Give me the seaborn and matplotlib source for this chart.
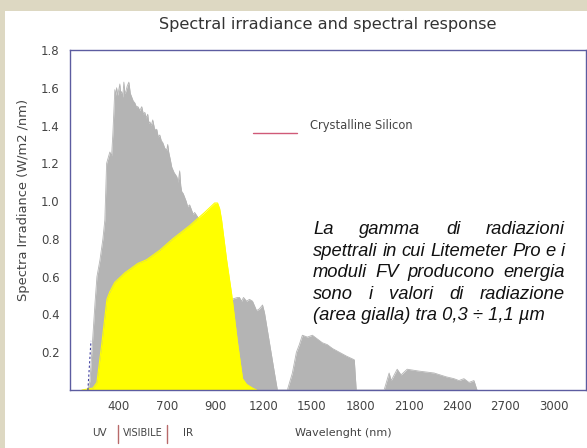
import numpy as np
import pandas as pd
import matplotlib
matplotlib.use("Agg")
import matplotlib.pyplot as plt
import seaborn as sns
from matplotlib.lines import Line2D
from matplotlib.patches import Rectangle

# grey area: solar spectral irradiance (x in the chart's own axis units)
sun_nm = [105, 111, 124, 155, 167, 186, 204, 216, 227, 247, 258, 266, 278, 284, 289, 296,
          309, 314, 320, 327, 334, 340, 346, 355, 365, 374, 383, 392, 402, 411, 421, 433,
          445, 455, 464, 472, 482, 489, 495, 504, 513, 525, 538, 547, 557, 566, 575, 588,
          600, 606, 612, 622, 631, 646, 662, 671, 680, 687, 693, 702, 711, 720, 730, 742,
          755, 764, 773, 804, 866, 928, 971, 1002, 1039, 1051, 1064, 1076, 1095, 1113,
          1132, 1157, 1175, 1194, 1206, 1237, 1268, 1286, 1348, 1379, 1404, 1422, 1441,
          1472, 1503, 1534, 1565, 1596, 1627, 1670, 1713, 1763, 1775, 1948, 1979, 1992,
          2029, 2053, 2091, 2165, 2258, 2332, 2381, 2412, 2443, 2474, 2505, 2524]
sun_val = [0.0, 0.0, 0.05, 0.46, 0.60, 0.69, 0.80, 0.90, 1.20, 1.26, 1.24, 1.36, 1.59, 1.56,
           1.60, 1.56, 1.62, 1.57, 1.58, 1.55, 1.63, 1.57, 1.58, 1.61, 1.63, 1.57, 1.55,
           1.53, 1.52, 1.50, 1.50, 1.48, 1.50, 1.46, 1.47, 1.44, 1.46, 1.41, 1.42, 1.40,
           1.43, 1.38, 1.38, 1.34, 1.35, 1.32, 1.31, 1.28, 1.27, 1.30, 1.26, 1.22, 1.18,
           1.15, 1.13, 1.10, 1.16, 1.08, 1.05, 1.04, 1.02, 1.00, 0.97, 0.98, 0.95, 0.93,
           0.94, 0.90, 0.85, 0.52, 0.48, 0.48, 0.49, 0.49, 0.47, 0.49, 0.47, 0.48, 0.47,
           0.42, 0.43, 0.45, 0.41, 0.25, 0.09, 0.0, 0.0, 0.09, 0.20, 0.24, 0.29, 0.28, 0.29,
           0.27, 0.25, 0.24, 0.22, 0.20, 0.18, 0.16, 0.0, 0.0, 0.09, 0.05, 0.11, 0.08,
           0.11, 0.10, 0.09, 0.07, 0.06, 0.05, 0.06, 0.04, 0.05, 0.0]

# yellow area: crystalline silicon response
si_nm = [74, 142, 167, 198, 229, 247, 278, 340, 421, 476, 557, 637, 742, 835, 897, 915,
         928, 940, 971, 1002, 1039, 1070, 1095, 1132, 1157]
si_val = [0.0, 0.01, 0.04, 0.25, 0.48, 0.52, 0.57, 0.62, 0.67, 0.69, 0.74, 0.80, 0.87,
          0.94, 0.99, 0.99, 0.96, 0.90, 0.69, 0.51, 0.25, 0.06, 0.03, 0.01, 0.0]

# small dashed trace at the left foot of the curves
trace_nm = [111, 130]
trace_val = [0.0, 0.26]

x_ticks = [150, 300, 600, 900, 1200, 1500, 1800, 2100, 2400, 2700, 3000]
x_labels = ['', '400', '700', '900', '1200', '1500', '1800', '2100', '2400', '2700', '3000']
y_ticks = [0.2, 0.4, 0.6, 0.8, 1.0, 1.2, 1.4, 1.6, 1.8]

note_lines = ["La gamma di radiazioni",
              "spettrali in cui Litemeter Pro e i",
              "moduli FV producono energia",
              "sono i valori di radiazione",
              "(area gialla) tra 0,3 ÷ 1,1 µm"]

sun = pd.DataFrame({"nm": sun_nm, "val": sun_val})
si = pd.DataFrame({"nm": si_nm, "val": si_val})

sns.set_style("white")
plt.rcParams['font.family'] = ['DejaVu Sans']

W, H = 587, 448
fig = plt.figure(figsize=(W / 100, H / 100), dpi=100, facecolor='#ddd8c2')
fig.add_artist(Rectangle((5 / W, 0), 1, (H - 11) / H, transform=fig.transFigure,
                         facecolor='white', edgecolor='none', zorder=-5))

ax = fig.add_axes([70 / W, 1 - 390 / H, 516 / W, 340 / H])
ax.fill_between(sun["nm"], 0, sun["val"], color='#b4b4b4', linewidth=0, zorder=1)
sns.lineplot(data=sun, x="nm", y="val", ax=ax, color='#b4b4b4', linewidth=0.6,
             estimator=None, zorder=1)
ax.fill_between(si["nm"], 0, si["val"], color='#ffff00', linewidth=0, zorder=3)
sns.lineplot(data=si, x="nm", y="val", ax=ax, color='#ffff00', linewidth=0.8,
             estimator=None, zorder=3)
ax.plot(trace_nm, trace_val, ls=(0, (2, 2)), color='#4040a0', lw=0.8, zorder=4)

ax.set_xlim(0, 3200)
ax.set_ylim(0, 1.8)
ax.set_xticks(x_ticks)
ax.set_xticklabels(x_labels)
ax.set_yticks(y_ticks)
ax.set_yticklabels([f"{v:.1f}" for v in y_ticks])
ax.set_xlabel("")
ax.set_ylabel("")
ax.tick_params(direction='inout', length=7, width=0.8, color='#333333',
               labelsize=8.5, labelcolor='#444444', pad=4)
for s in ax.spines.values():
    s.set_color('#5c5ca0')
    s.set_linewidth(1.0)
    s.set_zorder(5)

fig.text(328 / W, 1 - 24 / H, "Spectral irradiance and spectral response",
         ha='center', va='center', fontsize=11.6, color='#333333')
fig.text(24 / W, 1 - 200 / H, "Spectra Irradiance (W/m2 /nm)", rotation=90,
         ha='center', va='center', fontsize=9.4, color='#444444')
fig.text(343 / W, 1 - 433 / H, "Wavelenght (nm)", ha='center', va='center',
         fontsize=8, color='#444444')

# legend entry
fig.add_artist(Line2D([253 / W, 297 / W], [1 - 133 / H, 1 - 133 / H],
                      color='#d05a78', lw=1.0, transform=fig.transFigure))
fig.text(310 / W, 1 - 125 / H, "Crystalline Silicon", ha='left', va='center',
         fontsize=8.3, color='#444444')

# UV | VISIBILE | IR
fig.text(99 / W, 1 - 433 / H, "UV", ha='center', va='center', fontsize=7.5, color='#444444')
fig.text(142.5 / W, 1 - 433 / H, "VISIBILE", ha='center', va='center', fontsize=7.0,
         color='#444444')
fig.text(188 / W, 1 - 433 / H, "IR", ha='center', va='center', fontsize=7.5, color='#444444')
for xp in (118, 167):
    fig.add_artist(Line2D([xp / W, xp / W], [1 - 425 / H, 1 - 443 / H],
                          color='#b86a6a', lw=1.0, transform=fig.transFigure))

# justified italic note
renderer = fig.canvas.get_renderer()
x0, x1 = 313, 565
baselines = [234, 255.5, 277, 298.5, 320]
for i, (line, yb) in enumerate(zip(note_lines, baselines)):
    style = dict(fontsize=13.2, style='italic', family='Liberation Sans', color='#111111',
                 va='baseline', ha='left')
    if i == len(note_lines) - 1:
        fig.text(x0 / W, 1 - yb / H, line, **style)
        continue
    words = line.split()
    arts = [fig.text(0, 1 - yb / H, w, **style) for w in words]
    widths = [a.get_window_extent(renderer).width for a in arts]
    gap = (x1 - x0 - sum(widths)) / (len(words) - 1)
    xp = x0
    for a, w in zip(arts, widths):
        a.set_x(xp / W)
        xp += w + gap

fig.savefig("out.png", dpi=100, facecolor=fig.get_facecolor())
